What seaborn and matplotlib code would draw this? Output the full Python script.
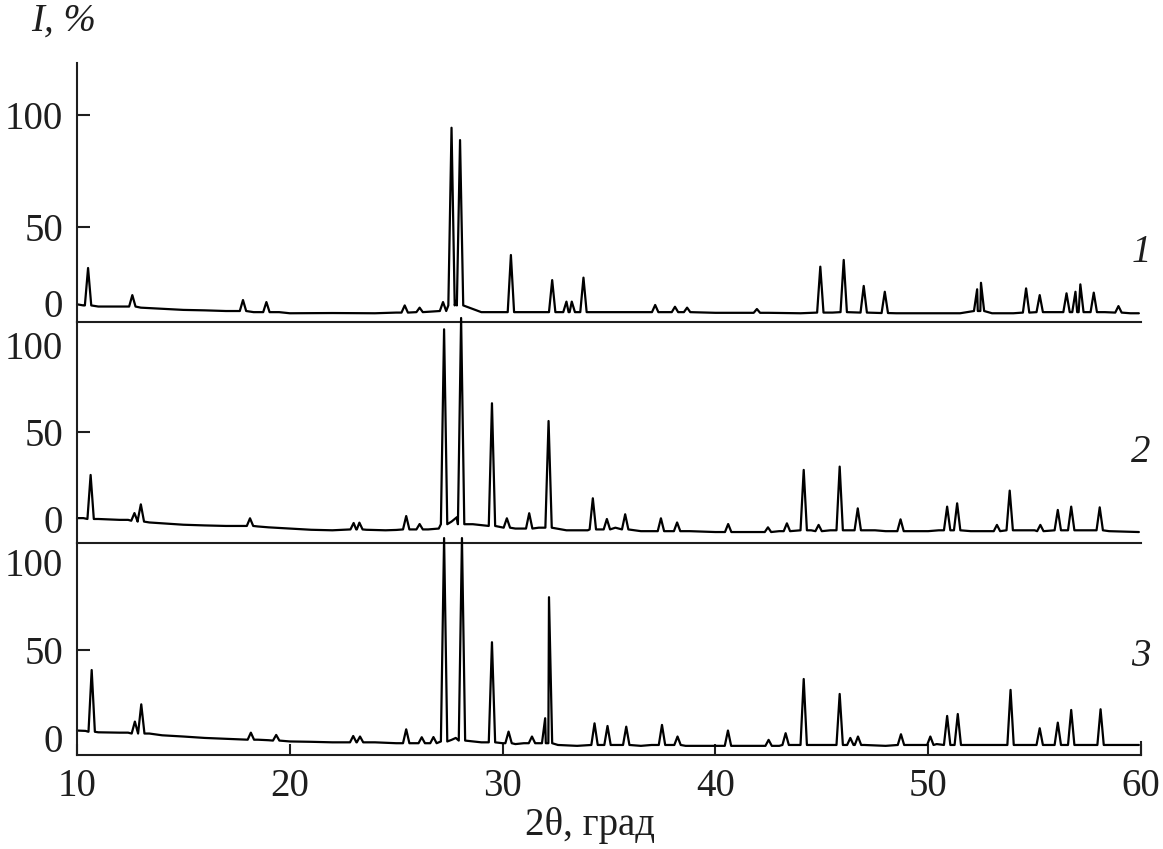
"Three stacked XRD patterns (1, 2, 3) drawn with seaborn"
import numpy as np
import pandas as pd
import matplotlib as mpl
mpl.use("Agg")
from matplotlib import pyplot as plt
import seaborn as sns

# ---- data ----------------------------------------------------------------
# pattern 1 (top): peak position (2theta), peak top, local background
p1_pos = [10.52, 12.6, 17.8, 18.9, 25.4, 26.1, 27.2, 27.6, 28.0, 30.39, 32.33, 33.0, 33.25,
          33.8, 37.17, 38.1, 38.67, 41.95, 44.93, 46.03, 46.97, 47.96, 52.3, 52.48,
          54.6, 55.24, 56.5, 56.92, 57.15, 57.78, 58.94]
p1_top = [31.7, 19.6, 17.4, 16.5, 15.0, 14.0, 16.5, 94.3, 88.8, 37.5, 26.3, 16.7, 16.7,
          27.4, 15.2, 14.4, 14.0, 13.4, 32.3, 35.3, 23.7, 21.1, 22.2, 25.1,
          22.6, 19.6, 20.4, 21.1, 24.4, 20.7, 14.7]
p1_bg = [15.0, 14.5, 12.5, 12.0, 11.8, 12.0, 12.5, 15.0, 15.0, 12.0, 12.0, 12.0, 12.0,
         12.0, 12.0, 12.0, 12.0, 11.7, 11.8, 12.0, 11.8, 11.6, 12.5, 12.5,
         11.8, 12.0, 12.0, 12.0, 12.0, 12.0, 11.8]
b1_x = [10.0, 10.3, 11.0, 12.0, 13.0, 14.0, 15.0, 16.0, 17.0, 18.3, 19.5, 20.0, 22.0, 24.0,
        25.0, 26.6, 27.8, 29.0, 30.0, 31.0, 32.0, 34.5, 36.0, 37.6, 40.0, 42.5, 44.0,
        45.5, 48.5, 50.0, 51.5, 53.0, 54.0, 56.0, 58.3, 59.5, 59.9]
b1_y = [15.5, 15.0, 14.5, 14.5, 14.0, 13.5, 13.0, 12.8, 12.5, 12.0, 12.0, 11.5, 11.6, 11.5,
        11.8, 12.2, 17.0, 12.0, 12.0, 12.0, 12.0, 12.0, 12.0, 12.0, 11.7, 11.7, 11.5,
        11.8, 11.5, 11.5, 11.5, 11.5, 11.5, 12.0, 12.0, 11.5, 11.5]

# pattern 2 (middle)
p2_pos = [10.64, 12.7, 13.0, 18.13, 23.0, 23.27, 25.47, 26.1, 27.25, 28.05, 29.5, 30.2,
          31.25, 32.16, 34.24, 34.9, 35.76, 37.44, 38.2, 40.6, 42.47, 43.36, 44.15,
          44.85, 45.84, 46.69, 48.7, 50.89, 51.36, 53.23, 53.83, 55.27, 56.09, 56.72, 58.06]
p2_top = [25.3, 3.4, 8.4, 0.4, -2.3, -2.1, 1.7, -2.9, 109.0, 115.5, 66.5, 0.4,
          3.3, 56.3, 11.9, 0.0, 2.7, 0.4, -2.0, -2.9, -4.8, -2.5, 28.2,
          -3.4, 30.1, 6.1, -0.2, 7.1, 9.0, -3.4, 16.3, -3.4, 5.2, 7.1, 6.7]
p2_bg = [0.0, -1.0, -1.5, -4.0, -6.0, -6.0, -6.0, -6.0, -3.0, -3.0, -4.0, -5.0,
         -5.5, -5.0, -6.0, -6.0, -6.0, -7.0, -7.0, -7.5, -7.5, -7.0, -6.5,
         -7.0, -6.5, -6.5, -7.0, -6.5, -6.5, -7.0, -6.5, -7.0, -6.5, -6.5, -6.5]
b2_x = [10.0, 10.3, 11.0, 12.0, 12.4, 13.4, 14.0, 15.0, 16.0, 17.0, 18.5, 19.0, 20.0, 21.0,
        22.0, 23.6, 24.5, 25.0, 26.5, 27.0, 27.6, 27.85, 28.6, 29.0, 30.6, 31.7, 33.0,
        34.0, 35.3, 36.5, 38.8, 40.0, 42.0, 43.0, 44.5, 45.4, 47.5, 48.0, 50.0, 50.5,
        52.0, 53.0, 54.5, 55.0, 57.5, 58.5, 59.9]
b2_y = [0.5, 0.5, 0.0, -0.5, -0.5, -2.0, -2.5, -3.3, -3.7, -4.0, -4.3, -4.8, -5.5, -6.2,
        -6.5, -6.2, -6.5, -6.3, -6.0, -5.5, -1.5, 1.0, -3.0, -3.5, -5.5, -5.0, -6.5,
        -6.5, -5.0, -7.0, -7.0, -7.5, -7.5, -7.0, -6.5, -6.5, -6.5, -7.0, -7.0, -6.5,
        -7.0, -7.0, -6.5, -6.5, -6.5, -7.0, -7.5]

# pattern 3 (bottom)
p3_pos = [10.69, 12.72, 13.02, 18.17, 19.36, 22.98, 23.3, 25.47, 26.2, 26.75, 27.25, 28.09,
          29.5, 30.28, 31.38, 32.0, 32.18, 34.32, 34.93, 35.81, 37.49, 38.22, 40.59, 42.5,
          43.3, 44.15, 45.84, 46.34, 46.7, 48.72, 50.1, 50.89, 51.39, 53.87, 55.24, 56.09,
          56.72, 58.1]
p3_top = [38.6, 9.3, 19.1, 3.0, 1.7, 1.1, 0.8, 4.9, 0.4, 0.5, 113.6, 113.6,
          54.4, 3.6, 0.8, 11.2, 80.0, 8.3, 6.8, 6.4, 7.4, 0.8, 4.2, -1.1,
          2.7, 33.5, 25.0, 0.0, 0.8, 2.1, 0.8, 12.5, 13.6, 27.3, 5.5, 8.7,
          15.9, 16.3]
p3_bg = [3.5, 2.5, 2.5, -1.0, -1.5, -2.5, -2.5, -3.0, -3.0, -3.0, -2.0, -1.5,
         -2.5, -3.0, -3.0, -3.0, -3.0, -4.0, -4.0, -4.0, -4.0, -4.0, -4.5, -4.5,
         -4.0, -4.0, -4.0, -4.0, -4.0, -4.0, -4.0, -4.0, -4.0, -4.0, -4.0, -4.0,
         -4.0, -4.0]
b3_x = [10.0, 10.4, 11.0, 12.0, 12.4, 13.4, 14.0, 15.0, 16.0, 17.0, 18.5, 19.0, 20.0, 21.0,
        22.0, 24.0, 25.0, 26.5, 27.0, 27.6, 27.8, 28.6, 29.0, 30.0, 30.6, 31.0, 31.7,
        32.6, 33.5, 34.6, 35.3, 36.5, 37.0, 38.6, 40.0, 41.0, 42.0, 43.0, 44.6, 45.4,
        47.0, 48.0, 49.5, 50.4, 52.0, 53.0, 54.5, 55.7, 57.5, 58.5, 59.9]
b3_y = [4.2, 4.0, 3.2, 3.0, 3.0, 2.5, 1.5, 0.8, 0.0, -0.5, -1.0, -1.3, -2.0, -2.2,
        -2.5, -2.5, -3.0, -3.0, -2.5, -1.1, 0.0, -2.0, -2.5, -3.0, -3.5, -3.0, -3.0,
        -4.0, -4.5, -4.0, -4.0, -4.5, -4.0, -4.5, -4.5, -4.5, -4.5, -4.5, -4.0, -4.0,
        -4.0, -4.5, -4.0, -3.5, -4.0, -4.0, -4.0, -4.0, -4.0, -4.0, -4.0]

panel_labels = ["1", "2", "3"]
y_labels = ["0", "50", "100"]
x_ticks = [10, 20, 30, 40, 50, 60]


def trace(pos, top, bg, knot_x, knot_y, hw=0.15):
    """polyline: background knots plus a narrow triangle for every read peak"""
    xs, ys = [], []
    for p, t, b in zip(pos, top, bg):
        xs += [p - hw, p, p + hw]
        ys += [b, t, b]
    pos_arr = np.array(pos)
    for kx, ky in zip(knot_x, knot_y):
        if np.min(np.abs(pos_arr - kx)) > hw:
            xs.append(kx)
            ys.append(ky)
    df = pd.DataFrame({"x": xs, "y": ys}).sort_values("x")
    return df


sns.set_theme(style="white")
plt.rcParams["font.family"] = ["Liberation Serif", "DejaVu Serif"]

W, H = 1163, 849
fig = plt.figure(figsize=(W / 100, H / 100), dpi=100)

# axes boxes in pixels: (top, bottom) ; x from 77 to 1141
boxes = [(63, 322), (322, 543), (543, 755)]
ylims = [(7.6, 123.2), (-13.8, 113.2), (-9.7, 110.8)]
yticks = [[16, 50, 100], [0, 50, 100], [0, 50, 100]]
shown_ticks = [[False, True, True], [False, True, False], [False, True, False]]
traces = [trace(p1_pos, p1_top, p1_bg, b1_x, b1_y),
          trace(p2_pos, p2_top, p2_bg, b2_x, b2_y),
          trace(p3_pos, p3_top, p3_bg, b3_x, b3_y)]
label_y = [252, 452, 657]

ink = "#1e1e1e"
lw = 1.5
for i, (top, bot) in enumerate(boxes):
    ax = fig.add_axes([77 / W, 1 - bot / H, (1141 - 77) / W, (bot - top) / H])
    ax.set_facecolor("none")
    sns.lineplot(data=traces[i], x="x", y="y", ax=ax, color="black",
                 linewidth=1.6, estimator=None, sort=False)
    for l in ax.lines:
        l.set_clip_on(False)
    ax.set_xlim(10, 60)
    ax.set_ylim(*ylims[i])
    ax.set_xlabel("")
    ax.set_ylabel("")
    for s in ["top", "right"]:
        ax.spines[s].set_visible(False)
    for s in ["left", "bottom"]:
        ax.spines[s].set_linewidth(lw)
        ax.spines[s].set_color(ink)
    ax.set_yticks(yticks[i])
    ax.set_yticklabels(y_labels)
    ax.tick_params(axis="y", direction="in", length=9.5, width=lw, pad=10,
                   labelsize=28, colors=ink, left=True)
    for tick, show in zip(ax.yaxis.get_major_ticks(), shown_ticks[i]):
        tick.tick1line.set_visible(show)
    if i < 2:
        ax.tick_params(axis="x", bottom=False, labelbottom=False)
    else:
        ax.set_xticks(x_ticks)
        ax.set_xticklabels([str(t) for t in x_ticks])
        ax.tick_params(axis="x", direction="in", length=8, width=lw, pad=9,
                       labelsize=28, colors=ink, bottom=True)
        ax.spines["right"].set_visible(True)
        ax.spines["right"].set_linewidth(lw)
        ax.spines["right"].set_color(ink)
        ax.spines["right"].set_bounds(ylims[i][0], -2.3)
    fig.text(1141 / W, 1 - label_y[i] / H, panel_labels[i], fontsize=28,
             style="italic", ha="center", va="center", color=ink)

fig.text(64 / W, 1 - 21 / H, "I, %", fontsize=28, style="italic",
         ha="center", va="center", color=ink)
fig.text(590 / W, 1 - 826 / H, "2θ, град", fontsize=28,
         ha="center", va="center", color=ink)

plt.savefig("out.png", dpi=100)
plt.clf()
